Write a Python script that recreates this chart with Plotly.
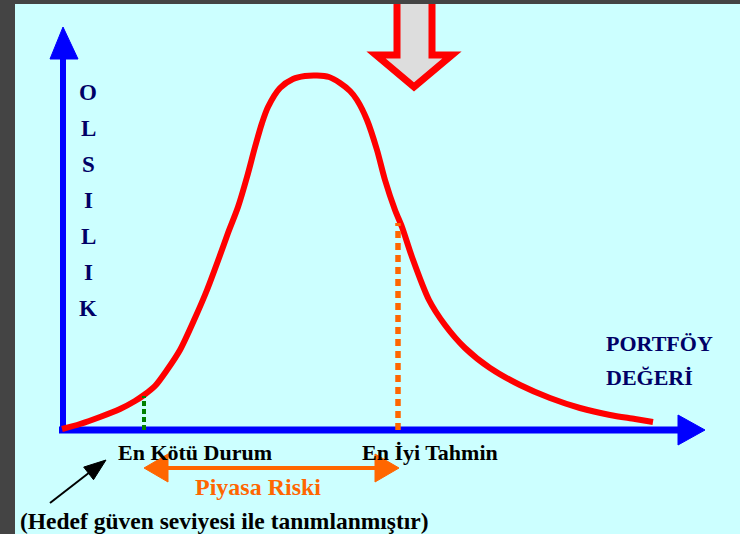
import plotly.graph_objects as go

# ---- data (conceptual units: portfolio value vs probability) ----
curve_x = [-1, 17, 37, 57, 72, 81, 92, 104, 117, 132, 144, 156, 165, 175, 184, 192, 199, 205,
           217, 230, 242, 254, 266, 277, 287, 294, 304, 314, 322, 332, 339, 349, 366, 382, 402,
           427, 457, 487, 517, 547, 572, 590]
curve_y = [1, 6, 13, 21, 29, 35, 44, 60, 80, 112, 140, 172, 197, 223, 253, 283, 307, 323,
           342, 351, 354, 354.5, 353, 347, 339, 330, 310, 280, 250, 220, 203, 173, 130, 105, 82,
           62, 45, 32, 22, 15, 11, 8]
worst_case_x = 81
worst_case_y = 34
best_estimate_x = 335
best_estimate_y = 207

y_axis_letters = ["O", "L", "S", "I", "L", "I", "K"]
x_axis_title = ["PORTFÖY", "DEĞERİ"]
worst_label = "En Kötü Durum"
best_label = "En İyi Tahmin"
risk_label = "Piyasa Riski"
note_label = "(Hedef güven seviyesi ile tanımlanmıştır)"

BG = "#CCFFFF"
NAVY = "#000066"
ORANGE = "#FF6600"
FONT = "Liberation Serif, Times New Roman, serif"

fig = go.Figure()

# main curve
fig.add_trace(go.Scatter(x=curve_x, y=curve_y, mode="lines",
                         line=dict(color="#FF0000", width=6, shape="spline", smoothing=0.8),
                         hoverinfo="skip", showlegend=False))
# dotted markers
fig.add_trace(go.Scatter(x=[worst_case_x, worst_case_x], y=[0, worst_case_y], mode="lines",
                         line=dict(color="#008000", width=4, dash="5px,3px"),
                         hoverinfo="skip", showlegend=False))
fig.add_trace(go.Scatter(x=[best_estimate_x, best_estimate_x], y=[0, best_estimate_y], mode="lines",
                         line=dict(color=ORANGE, width=5.5, dash="7px,5px"),
                         hoverinfo="skip", showlegend=False))

shapes = []
# axes
shapes.append(dict(type="line", x0=0, y0=-3, x1=0, y1=372, line=dict(color="#0000FF", width=6), layer="below"))
shapes.append(dict(type="path", path="M -13,371 L 15,371 L 0,403 Z", fillcolor="#0000FF",
                   line=dict(color="#0000FF", width=1), layer="below"))
shapes.append(dict(type="line", x0=-4, y0=0, x1=617, y1=0, line=dict(color="#0000FF", width=7), layer="below"))
shapes.append(dict(type="path", path="M 615,15 L 615,-15 L 642,0 Z", fillcolor="#0000FF",
                   line=dict(color="#0000FF", width=1), layer="below"))
# big down arrow
shapes.append(dict(type="path",
                   path="M 334,440 L 334,375 L 313,375 L 351,343 L 389,375 L 369,375 L 369,440 Z",
                   fillcolor="#DDDDDD", line=dict(color="#FF0000", width=7), layer="above"))
# orange double arrow (market risk)
shapes.append(dict(type="line", x0=worst_case_x + 20, y0=-38, x1=best_estimate_x - 20, y1=-38,
                   line=dict(color=ORANGE, width=4), layer="above"))
shapes.append(dict(type="path",
                   path=f"M {worst_case_x},-38 L {worst_case_x + 24},-24 L {worst_case_x + 24},-52 Z",
                   fillcolor=ORANGE, line=dict(color=ORANGE, width=1), layer="above"))
shapes.append(dict(type="path",
                   path=f"M {best_estimate_x + 1},-38 L {best_estimate_x - 23},-24 L {best_estimate_x - 23},-52 Z",
                   fillcolor=ORANGE, line=dict(color=ORANGE, width=1), layer="above"))
# black pointer arrow
shapes.append(dict(type="line", x0=-13, y0=-73, x1=27, y1=-42, line=dict(color="black", width=2), layer="above"))
shapes.append(dict(type="path", path="M 43,-30 L 30.5,-49.7 L 20.7,-37.1 Z",
                   fillcolor="black", line=dict(color="black", width=1), layer="above"))
# dark frame
shapes.append(dict(type="rect", xref="paper", yref="paper", x0=0, x1=15 / 740, y0=0, y1=1,
                   fillcolor="#444444", line=dict(width=0), layer="above"))
shapes.append(dict(type="rect", xref="paper", yref="paper", x0=0, x1=1, y0=1 - 4 / 534, y1=1,
                   fillcolor="#444444", line=dict(width=0), layer="above"))

annotations = []
for i, letter in enumerate(y_axis_letters):
    annotations.append(dict(x=25, y=338 - 36 * i, text=f"<b>{letter}</b>", showarrow=False,
                            xanchor="center", yanchor="middle",
                            font=dict(family=FONT, size=23, color=NAVY)))
for i, t in enumerate(x_axis_title):
    annotations.append(dict(x=541, y=87 - 34 * i, text=f"<b>{t}</b>", showarrow=False,
                            xanchor="left", yanchor="middle",
                            font=dict(family=FONT, size=22, color=NAVY)))
annotations.append(dict(x=53, y=-22, text=f"<b>{worst_label}</b>", showarrow=False,
                        xanchor="left", yanchor="middle", font=dict(family=FONT, size=22, color="black")))
annotations.append(dict(x=297, y=-22, text=f"<b>{best_label}</b>", showarrow=False,
                        xanchor="left", yanchor="middle", font=dict(family=FONT, size=22, color="black")))
annotations.append(dict(x=(worst_case_x + best_estimate_x) / 2 - 13, y=-57, text=f"<b>{risk_label}</b>",
                        showarrow=False, xanchor="center", yanchor="middle",
                        font=dict(family=FONT, size=24, color=ORANGE)))
annotations.append(dict(x=-45, y=-91, text=f"<b>{note_label}</b>", showarrow=False,
                        xanchor="left", yanchor="middle", font=dict(family=FONT, size=23.5, color="black")))

fig.update_layout(
    width=740, height=534, autosize=False,
    margin=dict(l=0, r=0, t=0, b=0, pad=0),
    paper_bgcolor=BG, plot_bgcolor=BG,
    xaxis=dict(range=[-63, 677], visible=False, fixedrange=True),
    yaxis=dict(range=[-104, 430], visible=False, fixedrange=True),
    shapes=shapes, annotations=annotations, showlegend=False,
)

fig.write_html("out.html", config={"displayModeBar": False},
               post_script="document.body.style.margin='0px';document.body.style.overflow='hidden';"
                           "document.body.style.background='" + BG + "';")
